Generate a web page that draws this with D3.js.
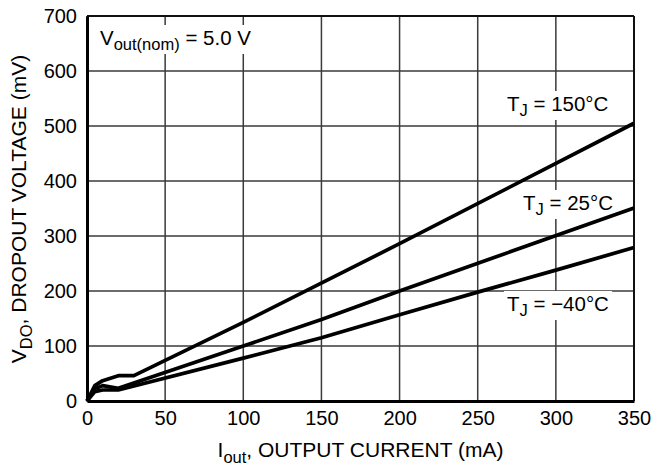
<!DOCTYPE html>
<html>
<head>
<meta charset="utf-8">
<script src="https://cdn.jsdelivr.net/npm/d3@7"></script>
<style>
body { margin: 0; background: white; }
svg { font-family: 'Liberation Sans', Arial, Helvetica, sans-serif; }
</style>
</head>
<body>
<div id="chart"></div>
<script>
// values
var xTicks = [0, 50, 100, 150, 200, 250, 300, 350];
var yTicks = [0, 100, 200, 300, 400, 500, 600, 700];

var current150 = [0, 5, 10, 20, 30, 100, 200, 350];
var vdo150 = [0, 28, 37, 46, 46, 143, 286, 505];

var current25 = [0, 5, 10, 20, 100, 150, 200, 350];
var vdo25 = [0, 22, 28, 23, 100, 148, 200, 351];

var currentM40 = [0, 5, 10, 20, 100, 150, 200, 250, 300, 350];
var vdoM40 = [0, 17, 20, 20, 78, 115, 157, 198, 238, 279];

var curveLabels = ['150°C', '25°C', '\u221240°C'];

var width = 655;
var height = 468;
var margin = {left: 87, right: 21, top: 16, bottom: 67};

var svg = d3
    .select('#chart')
    .append('svg')
    .attr('width', width)
    .attr('height', height);

var xScale = d3
    .scaleLinear()
    .domain([0, 350])
    .range([margin.left, width - margin.right]);

var yScale = d3
    .scaleLinear()
    .domain([0, 700])
    .range([height - margin.bottom, margin.top]);

// grid
svg.append('g')
    .selectAll('line')
    .data(xTicks)
    .enter()
    .append('line')
    .attr('x1', d => xScale(d))
    .attr('x2', d => xScale(d))
    .attr('y1', yScale(0))
    .attr('y2', yScale(700))
    .attr('stroke', '#3a3a3a')
    .attr('stroke-width', 1.5);

svg.append('g')
    .selectAll('line')
    .data(yTicks)
    .enter()
    .append('line')
    .attr('x1', xScale(0))
    .attr('x2', xScale(350))
    .attr('y1', d => yScale(d))
    .attr('y2', d => yScale(d))
    .attr('stroke', '#3a3a3a')
    .attr('stroke-width', 1.5);

// frame: top/right thinner, left/bottom heavy
svg.append('line')
    .attr('x1', xScale(0)).attr('x2', xScale(350))
    .attr('y1', yScale(700)).attr('y2', yScale(700))
    .attr('stroke', '#111').attr('stroke-width', 2);
svg.append('line')
    .attr('x1', xScale(350)).attr('x2', xScale(350))
    .attr('y1', yScale(0)).attr('y2', yScale(700))
    .attr('stroke', '#111').attr('stroke-width', 2);

// text labels inside the plot, with white backing that cuts the grid
function label(x, y, main, sub, rest) {
    var g = svg.append('g');
    var t = g.append('text')
        .attr('x', x)
        .attr('y', y)
        .attr('font-size', 20.5)
        .attr('fill', '#000');
    t.append('tspan').text(main);
    t.append('tspan').attr('font-size', 16.5).attr('dy', 5).text(sub);
    t.append('tspan').attr('dy', -5).text(rest);
    var bb = t.node().getBBox();
    g.insert('rect', 'text')
        .attr('x', bb.x - 3)
        .attr('y', bb.y - 1)
        .attr('width', bb.width + 6)
        .attr('height', bb.height + 2)
        .attr('fill', 'white');
}

label(100, 45, 'V', 'out(nom)', ' = 5.0 V');
label(507, 111, 'T', 'J', ' = ' + curveLabels[0]);
label(523, 210, 'T', 'J', ' = ' + curveLabels[1]);
label(507, 311, 'T', 'J', ' = ' + curveLabels[2]);

// curves
var line = d3.line()
    .x(d => xScale(d[0]))
    .y(d => yScale(d[1]));

var series = [
    d3.zip(current150, vdo150),
    d3.zip(current25, vdo25),
    d3.zip(currentM40, vdoM40)
];

svg.append('g')
    .selectAll('path')
    .data(series)
    .enter()
    .append('path')
    .attr('d', line)
    .attr('fill', 'none')
    .attr('stroke', '#000')
    .attr('stroke-width', 3.7)
    .attr('stroke-linejoin', 'round');

// axes
var xAxis = d3.axisBottom(xScale).tickValues(xTicks).tickSize(0).tickPadding(10);
var yAxis = d3.axisLeft(yScale).tickValues(yTicks).tickSize(0).tickPadding(10);

var gx = svg.append('g')
    .attr('transform', `translate(0,${yScale(0)})`)
    .call(xAxis);
var gy = svg.append('g')
    .attr('transform', `translate(${xScale(0)},0)`)
    .call(yAxis);

[gx, gy].forEach(g => {
    g.select('.domain').attr('stroke', '#000').attr('stroke-width', 3);
    g.selectAll('text')
        .attr('font-size', 20)
        .attr('fill', '#000')
        .attr('font-family', "'Liberation Sans', Arial, sans-serif");
});

// axis titles
var xTitle = svg.append('text')
    .attr('x', (xScale(0) + xScale(350)) / 2)
    .attr('y', 457)
    .attr('text-anchor', 'middle')
    .attr('font-size', 21);
xTitle.append('tspan').text('I');
xTitle.append('tspan').attr('font-size', 16.5).attr('dy', 6).text('out');
xTitle.append('tspan').attr('dy', -6).text(', OUTPUT CURRENT (mA)');

var yTitle = svg.append('text')
    .attr('transform', 'translate(26,209)rotate(-90)')
    .attr('text-anchor', 'middle')
    .attr('font-size', 21);
yTitle.append('tspan').text('V');
yTitle.append('tspan').attr('font-size', 16.5).attr('dy', 6).text('DO');
yTitle.append('tspan').attr('dy', -6).text(', DROPOUT VOLTAGE (mV)');
</script>
</body>
</html>
